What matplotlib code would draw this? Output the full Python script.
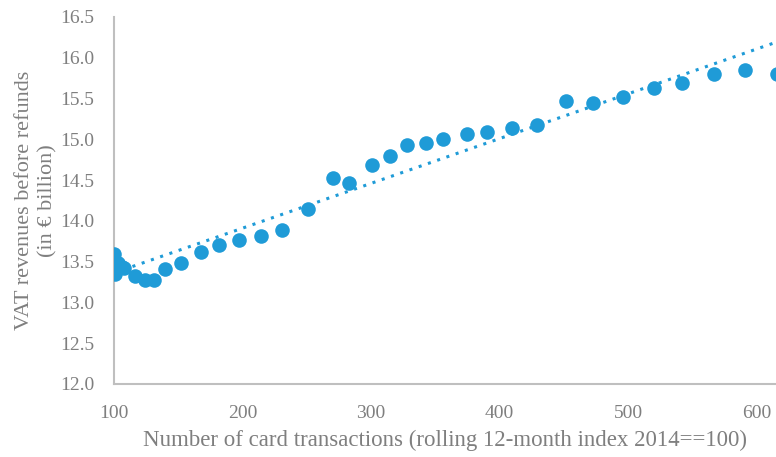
import numpy as np
import matplotlib.pyplot as plt

# card transactions index (2014 == 100) vs VAT revenues before refunds
card_index = [100, 103, 101, 106, 108, 116, 124, 131, 140, 152, 168, 182, 197,
              214, 231, 251, 270, 283, 301, 315, 328, 343, 356, 375, 390, 410,
              429, 452, 473, 496, 520, 542, 567, 591, 616]
vat_bn = [13.60, 13.48, 13.35, 13.43, 13.42, 13.32, 13.27, 13.27, 13.41, 13.48,
          13.62, 13.70, 13.77, 13.81, 13.89, 14.14, 14.53, 14.47, 14.68, 14.79,
          14.93, 14.96, 15.01, 15.06, 15.09, 15.14, 15.17, 15.47, 15.45, 15.52,
          15.63, 15.69, 15.80, 15.85, 15.80]

blue = '#1F9BD7'
grey = '#7F7F7F'
plt.rcParams['font.family'] = ['Liberation Serif', 'DejaVu Serif']

fig = plt.figure(figsize=(7.76, 4.57), dpi=100)
ax = fig.add_axes([114 / 776, 1 - 384 / 457, 1 - 114 / 776, (384 - 17) / 457])

x = np.array(card_index)
y = np.array(vat_bn)
ax.scatter(x, y, s=110, color=blue, zorder=3, linewidths=0)

# linear trend
k, b = np.polyfit(x, y, 1)
xt = np.array([x.min(), 620])
ax.plot(xt, k * xt + b, color=blue, linestyle=(0, (1, 2.2)), linewidth=2.2, zorder=2)

ax.set_xlim(100, 615)
ax.set_ylim(12.0, 16.5)
ax.set_xticks([100, 200, 300, 400, 500, 600])
ax.set_yticks(np.arange(12.0, 16.51, 0.5))
ax.yaxis.set_major_formatter(plt.FormatStrFormatter('%.1f'))

for side in ['top', 'right']:
    ax.spines[side].set_visible(False)
for side in ['left', 'bottom']:
    ax.spines[side].set_color('#BFBFBF')
    ax.spines[side].set_linewidth(1.5)

ax.tick_params(length=0, labelsize=14, labelcolor=grey)
ax.tick_params(axis='x', pad=15)
ax.tick_params(axis='y', pad=14)

ax.set_xlabel('Number of card transactions (rolling 12-month index 2014==100)',
              fontsize=16.5, color=grey, labelpad=6)
ax.set_ylabel('VAT revenues before refunds\n(in € billion)',
              fontsize=16, color=grey, labelpad=2, linespacing=1.3)

fig.savefig('out.png', dpi=100)
